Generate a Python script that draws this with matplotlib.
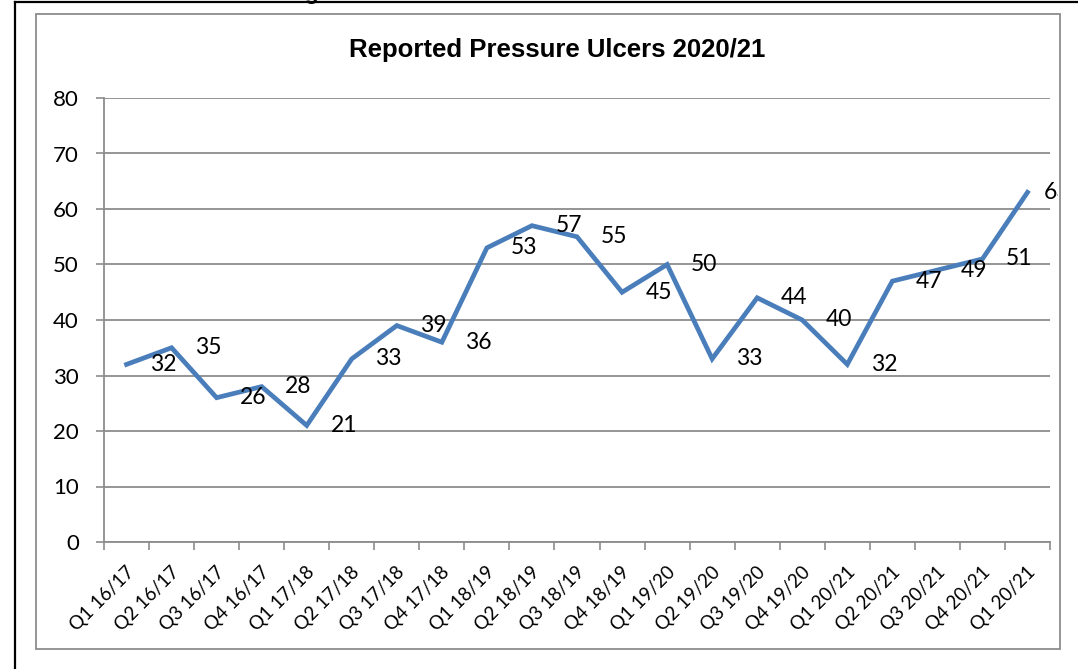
import matplotlib
matplotlib.use("Agg")
import matplotlib.pyplot as plt
from matplotlib.patches import Rectangle
from matplotlib.lines import Line2D
from matplotlib.transforms import ScaledTranslation
import numpy as np

categories = ["Q1 16/17", "Q2 16/17", "Q3 16/17", "Q4 16/17",
              "Q1 17/18", "Q2 17/18", "Q3 17/18", "Q4 17/18",
              "Q1 18/19", "Q2 18/19", "Q3 18/19", "Q4 18/19",
              "Q1 19/20", "Q2 19/20", "Q3 19/20", "Q4 19/20",
              "Q1 20/21", "Q2 20/21", "Q3 20/21", "Q4 20/21",
              "Q1 20/21"]
values = [32, 35, 26, 28, 21, 33, 39, 36, 53, 57, 55, 45, 50, 33, 44, 40, 32, 47, 49, 51, 63]
y_ticks = [0, 10, 20, 30, 40, 50, 60, 70, 80]
title = "Reported Pressure Ulcers 2020/21"

W, H = 1078, 669
fig = plt.figure(figsize=(W / 100, H / 100), dpi=100)
fig.patch.set_facecolor("white")

def fx(px):
    return px / W

def fy(py):
    return 1 - py / H

# outer black frame (top and left)
fig.add_artist(Line2D([fx(15), fx(1078)], [fy(2), fy(2)], color="black", lw=1.6))
fig.add_artist(Line2D([fx(15), fx(15)], [fy(2), fy(669)], color="black", lw=1.6))
# clipped heading descender at the very top
fig.text(fx(311), fy(-1), "g", ha="center", va="baseline", fontsize=16,
         fontweight="bold", family="Liberation Sans")

# gray chart border
border = Rectangle((fx(36), fy(649)), fx(1060) - fx(36), fy(14) - fy(649),
                   transform=fig.transFigure, fill=False, edgecolor="#8c8c8c", lw=1.3)
fig.add_artist(border)
clip_rect = Rectangle((fx(36), fy(649)), fx(1058) - fx(36), fy(14) - fy(649),
                      transform=fig.transFigure, fill=False, visible=False)
fig.add_artist(clip_rect)

ax = fig.add_axes([fx(104), fy(542), fx(1050) - fx(104), fy(98) - fy(542)])
n = len(values)
x = np.arange(n)
ax.set_xlim(-0.5, n - 0.5)
ax.set_ylim(0, 80)

ax.plot(x, values, color="#4a7ebb", lw=3.4, solid_joinstyle="miter", zorder=3)

# data labels (offset to the right as in the reference)
for xi, v in zip(x, values):
    dx = 0.82 if xi < n - 1 else 0.66
    t = ax.text(xi + dx, v, str(v), ha="center", va="center", fontsize=16.5,
                family="Lato", color="black", zorder=4)
    t.set_clip_on(True)
    t.set_clip_box(None)
    t.set_clip_path(clip_rect)

# grid & axes
ax.set_yticks(y_ticks)
ax.set_yticklabels([str(v) for v in y_ticks], family="Lato", fontsize=16)
ax.yaxis.grid(True, color="#8c8c8c", lw=1.3)
ax.set_axisbelow(True)
ax.tick_params(axis="y", length=6, width=1.2, color="#8c8c8c", pad=12)

ax.set_xticks(np.arange(-0.5, n, 1.0))
ax.set_xticklabels([])
ax.set_xticks(x, minor=True)
ax.set_xticklabels(categories, minor=True, rotation=45, ha="right",
                   rotation_mode="anchor", va="center", fontsize=13.5, family="Lato")
ax.tick_params(axis="x", which="major", length=6, width=1.2, color="#8c8c8c")
ax.tick_params(axis="x", which="minor", length=0, pad=20)
shift = ScaledTranslation(5 / 100, 0, fig.dpi_scale_trans)
for lbl in ax.get_xticklabels(minor=True):
    lbl.set_transform(lbl.get_transform() + shift)

for s in ["top", "right"]:
    ax.spines[s].set_visible(False)
for s in ["left", "bottom"]:
    ax.spines[s].set_color("#8c8c8c")
    ax.spines[s].set_linewidth(1.3)

fig.text(fx(557), fy(50), title, ha="center", va="center", fontsize=18.5,
         fontweight="bold", family="Liberation Sans")

fig.savefig("out.png", dpi=100, facecolor="white")
